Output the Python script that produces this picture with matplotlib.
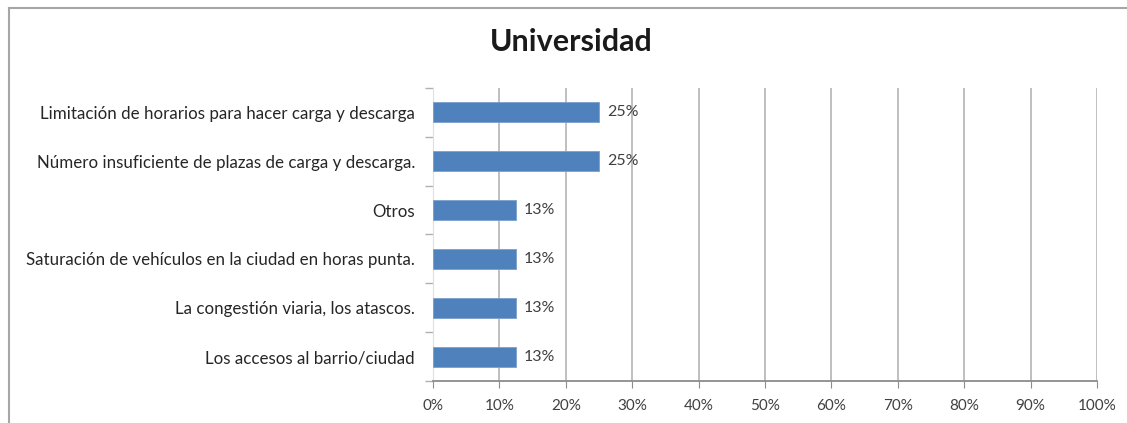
import matplotlib.pyplot as plt
from matplotlib.ticker import PercentFormatter, FixedLocator
from matplotlib.lines import Line2D

plt.rcParams['font.family'] = ['Lato', 'DejaVu Sans']

categorias = [
    'Los accesos al barrio/ciudad',
    'La congestión viaria, los atascos.',
    'Saturación de vehículos en la ciudad en horas punta.',
    'Otros',
    'Número insuficiente de plazas de carga y descarga.',
    'Limitación de horarios para hacer carga y descarga',
]
valores = [0.125, 0.125, 0.125, 0.125, 0.25, 0.25]
etiquetas = ['13%', '13%', '13%', '13%', '25%', '25%']

fig = plt.figure(figsize=(11.27, 4.23), dpi=100)
ax = fig.add_axes([0.3842, 0.0993, 0.5892, 0.6927])

# marco gris del grafico: solo arriba e izquierda se ven
bx = 8.5 / 1127
by = 1 - 8.5 / 423
fig.lines.append(Line2D([bx, 1.0], [by, by], transform=fig.transFigure,
                        color='#a6a6a6', linewidth=1.5))
fig.lines.append(Line2D([bx, bx], [0.0, by], transform=fig.transFigure,
                        color='#a6a6a6', linewidth=1.5))

y = range(len(categorias))
ax.barh(y, valores, height=0.41, color='#4f81bd', edgecolor='#7a9fcf',
        linewidth=0.6, zorder=3)
for i, v in enumerate(valores):
    ax.text(v + 0.012, i, etiquetas[i], va='center', ha='left',
            fontsize=11.5, color='#404040')

ax.set_xlim(0, 1)
ax.set_ylim(-0.5, len(categorias) - 0.5)
ax.set_xticks([i / 10 for i in range(11)])
ax.xaxis.set_major_formatter(PercentFormatter(1.0, decimals=0))
ax.set_yticks(list(y))
ax.set_yticklabels(categorias, fontsize=12.2, color='#262626')
ax.yaxis.set_minor_locator(FixedLocator([i - 0.5 for i in range(len(categorias) + 1)]))
ax.tick_params(axis='y', which='major', length=0, pad=13)
ax.tick_params(axis='y', which='minor', length=6, color='#b0b0b0', width=1)
ax.tick_params(axis='x', length=5, color='#8c8c8c', labelsize=11,
               labelcolor='#404040', pad=8)

ax.grid(axis='x', color='#b4b4b4', linewidth=1.2, zorder=0)
for s in ['top', 'right']:
    ax.spines[s].set_visible(False)
ax.spines['left'].set_color('#e0e0e0')
ax.spines['bottom'].set_color('#8c8c8c')
ax.spines['bottom'].set_linewidth(1.3)

fig.text(0.507, 0.90, 'Universidad', ha='center', va='center',
         fontsize=22, fontweight='bold', color='#1a1a1a')

fig.savefig('out.png', dpi=100)
